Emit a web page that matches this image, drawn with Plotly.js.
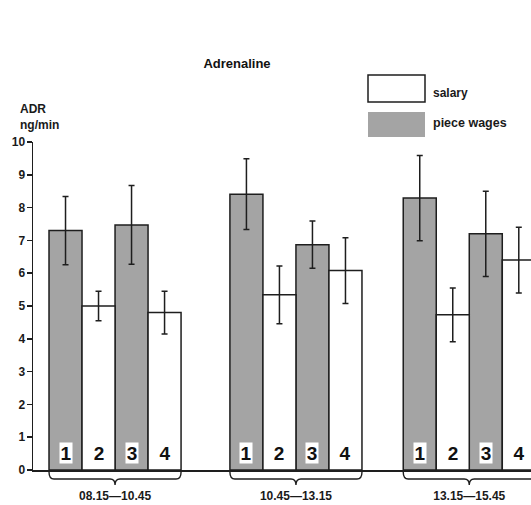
<!DOCTYPE html>
<html>
<head>
<meta charset="utf-8">
<script src="https://cdn.plot.ly/plotly-3.0.1.min.js"></script>
<style>html,body{margin:0;padding:0;background:#fff;}#chart{width:531px;height:505px;}</style>
</head>
<body>
<div id="chart"></div>
<script>
// ---- data ----
const groups = ["08.15\u201410.45", "10.45\u201413.15", "13.15\u201415.45"];
const barLabels = ["1", "2", "3", "4"];
const barTypes = ["piece wages", "salary", "piece wages", "salary"];
const meansG1 = [7.3, 5.0, 7.47, 4.8];
const meansG2 = [8.41, 5.34, 6.87, 6.08];
const meansG3 = [8.29, 4.73, 7.2, 6.4];
const errG1 = [1.04, 0.45, 1.2, 0.65];
const errG2 = [1.08, 0.88, 0.72, 1.0];
const errG3 = [1.3, 0.82, 1.3, 1.0];
const yTicks = [0, 1, 2, 3, 4, 5, 6, 7, 8, 9, 10];

// ---- layout constants ----
const groupStart = [0, 5.48, 10.73];
const W = 531, H = 505;
const mL = 33, mR = 0, mT = 142, mB = 35;
const plotW = W - mL - mR, plotH = H - mT - mB;
const px = x => (x - mL) / plotW;
const py = y => (H - mB - y) / plotH;
const greyFill = '#a4a4a4';
const lineCol = '#1e1e1e';
const txtCol = '#1a1a1a';
const font = 'Liberation Sans, Arial, Helvetica, sans-serif';

const means = [meansG1, meansG2, meansG3];
const errs = [errG1, errG2, errG3];

function build(type) {
  const x = [], y = [], e = [];
  groups.forEach((g, gi) => {
    barTypes.forEach((t, bi) => {
      if (t === type) {
        x.push(groupStart[gi] + bi);
        y.push(means[gi][bi]);
        e.push(errs[gi][bi]);
      }
    });
  });
  return {x, y, e};
}

const traces = ["piece wages", "salary"].map(type => {
  const d = build(type);
  return {
    type: 'bar', name: type, x: d.x, y: d.y, width: 1,
    marker: {color: type === 'salary' ? '#ffffff' : greyFill,
             line: {color: lineCol, width: 1.5}},
    error_y: {type: 'data', array: d.e, visible: true, color: lineCol, thickness: 1.5, width: 3},
    showlegend: false, hoverinfo: 'skip'
  };
});

const annotations = [];
const shapes = [];
groups.forEach((g, gi) => {
  barLabels.forEach((lab, bi) => {
    annotations.push({
      x: groupStart[gi] + bi, y: 0, xref: 'x', yref: 'y',
      yanchor: 'bottom', yshift: 6, text: lab, showarrow: false,
      width: 12, height: 20, borderpad: 0, valign: 'middle',
      font: {family: font, size: 19, color: '#111', weight: 'bold'},
      bgcolor: barTypes[bi] === 'salary' ? 'rgba(0,0,0,0)' : '#ffffff'
    });
  });
  // brace under group
  const x0 = groupStart[gi] - 0.5, x1 = groupStart[gi] + 3.5, xm = (x0 + x1) / 2;
  const yTop = py(472), yMid = py(479), yTip = py(485);
  const a = 0.15;
  shapes.push({
    type: 'path', xref: 'x', yref: 'paper', layer: 'above',
    path: `M ${x0},${yTop} Q ${x0},${yMid} ${x0 + a},${yMid} L ${xm - a},${yMid} Q ${xm},${yMid} ${xm},${yTip} Q ${xm},${yMid} ${xm + a},${yMid} L ${x1 - a},${yMid} Q ${x1},${yMid} ${x1},${yTop}`,
    line: {color: lineCol, width: 1.4}
  });
});

// y-axis title
annotations.push({
  xref: 'paper', yref: 'paper', x: px(18), y: py(100), xanchor: 'left', yanchor: 'top',
  align: 'left', text: 'ADR<br>ng/min', showarrow: false,
  font: {family: font, size: 12, color: txtCol, weight: 'bold'}
});

// legend
shapes.push({type: 'rect', xref: 'paper', yref: 'paper', x0: px(368), x1: px(425), y0: py(102), y1: py(75),
  line: {color: lineCol, width: 1.5}, fillcolor: '#ffffff'});
shapes.push({type: 'rect', xref: 'paper', yref: 'paper', x0: px(368), x1: px(425), y0: py(137), y1: py(112),
  line: {width: 0}, fillcolor: greyFill});
annotations.push({xref: 'paper', yref: 'paper', x: px(431), y: py(93), xanchor: 'left', yanchor: 'middle',
  text: 'salary', showarrow: false, font: {family: font, size: 12, color: txtCol, weight: 'bold'}});
annotations.push({xref: 'paper', yref: 'paper', x: px(431), y: py(123), xanchor: 'left', yanchor: 'middle',
  text: 'piece wages', showarrow: false, font: {family: font, size: 12.5, color: txtCol, weight: 'bold'}});

const layout = {
  width: W, height: H,
  margin: {l: mL, r: mR, t: mT, b: mB},
  paper_bgcolor: '#ffffff', plot_bgcolor: 'rgba(0,0,0,0)',
  title: {text: 'Adrenaline', x: 237 / W, xanchor: 'center', y: 1 - 63 / H, yanchor: 'middle',
          font: {family: font, size: 13, color: '#111', weight: 'bold'}},
  barmode: 'overlay',
  xaxis: {
    range: [-0.985, 14.1], showgrid: false, zeroline: false,
    showline: true, linecolor: lineCol, linewidth: 1.5,
    tickvals: groupStart.map(s => s + 1.5), ticktext: groups,
    ticks: '', ticklabelstandoff: 14,
    tickfont: {family: font, size: 12, color: txtCol, weight: 'bold'}, fixedrange: true
  },
  yaxis: {
    range: [0, 10], showgrid: false, zeroline: false,
    showline: true, linecolor: lineCol, linewidth: 1.5,
    tickvals: yTicks, ticks: 'outside', ticklen: 5, tickwidth: 1.5, tickcolor: lineCol,
    ticklabelstandoff: -1,
    tickfont: {family: font, size: 12, color: txtCol, weight: 'bold'}, fixedrange: true
  },
  annotations, shapes
};

Plotly.newPlot('chart', traces, layout, {displayModeBar: false, staticPlot: true});
</script>
</body>
</html>
